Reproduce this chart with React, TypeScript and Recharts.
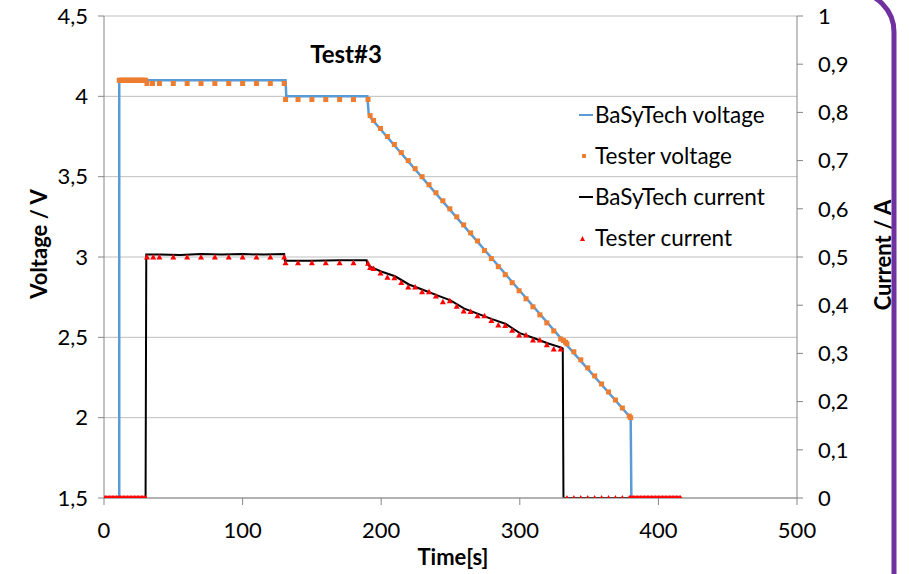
import React from "react";
import { ComposedChart, Line, XAxis, YAxis, CartesianGrid, Legend } from "recharts";

const FONT = "Lato, 'Noto Sans', sans-serif";

const timeTicks = [0, 100, 200, 300, 400, 500];
const voltTicks = [1.5, 2, 2.5, 3, 3.5, 4, 4.5];
const currTicks = [0, 0.1, 0.2, 0.3, 0.4, 0.5, 0.6, 0.7, 0.8, 0.9, 1];

// BaSyTech voltage (line)
const basyVoltT = [0, 11, 11, 131, 131.5, 190, 191, 193, 250, 300, 332, 380, 380.5, 416];
const basyVoltV = [1.5, 1.5, 4.1, 4.1, 4.0, 4.0, 3.89, 3.86, 3.29, 2.79, 2.47, 2.0, 1.5, 1.5];

// Tester voltage (square markers)
const testVoltT = [
  11, 12, 13, 14, 15, 16, 17, 18, 19, 20, 21, 22, 23, 24, 25, 26, 27, 28, 29, 30,
  31, 35, 40, 50, 60, 70, 80, 90, 100, 110, 120, 130,
  131, 140, 150, 160, 170, 180, 190.5, 192,
  194.5, 199.5, 204.5, 209.5, 214.5, 219.5, 224.5, 229.5, 234.5, 239.5, 244.5, 249.5,
  254.5, 259.5, 264.5, 269.5, 274.5, 279.5, 284.5, 289.5, 294.5, 299.5, 304.5, 309.5,
  314.5, 319.5, 324.5, 329.5, 331.5, 333, 334,
  339, 344, 349, 354, 359, 364, 369, 374, 379, 380,
];
const testVoltV = [
  4.1, 4.1, 4.1, 4.1, 4.1, 4.1, 4.1, 4.1, 4.1, 4.1, 4.1, 4.1, 4.1, 4.1, 4.1, 4.1, 4.1, 4.1, 4.1, 4.1,
  4.08, 4.08, 4.08, 4.08, 4.08, 4.08, 4.08, 4.08, 4.08, 4.08, 4.08, 4.08,
  3.98, 3.98, 3.98, 3.98, 3.98, 3.98, 3.98, 3.88,
  3.85, 3.8, 3.75, 3.7, 3.65, 3.6, 3.55, 3.5, 3.45, 3.4, 3.35, 3.3,
  3.25, 3.2, 3.15, 3.1, 3.04, 2.99, 2.94, 2.89, 2.84, 2.79, 2.74, 2.69,
  2.64, 2.59, 2.54, 2.49, 2.48, 2.47, 2.46,
  2.41, 2.36, 2.31, 2.26, 2.21, 2.16, 2.11, 2.06, 2.01, 2.0,
];

// BaSyTech current (line)
const basyCurrT = [
  0, 30, 30.5, 40, 55, 70, 85, 100, 115, 130, 130.5, 150, 170, 189.5, 190, 192,
  200, 210, 220, 230, 240, 250, 260, 270, 280, 290, 300, 310, 320, 330, 331, 331.5, 416,
];
const basyCurrI = [
  0, 0, 0.505, 0.505, 0.504, 0.506, 0.505, 0.506, 0.505, 0.506, 0.492, 0.492, 0.493, 0.493, 0.485, 0.48,
  0.47, 0.46, 0.443, 0.432, 0.421, 0.41, 0.393, 0.382, 0.371, 0.361, 0.342, 0.332, 0.321, 0.312, 0.31, 0, 0,
];

// Tester current (triangle markers)
const testCurrT = [
  0, 1, 2, 3, 4, 5, 6, 7, 8, 9, 10, 11, 12, 13, 14, 15, 16, 17, 18, 19, 20, 21, 22, 23, 24, 25, 26, 27, 28, 29, 30,
  31, 35.5, 40, 50, 60, 70, 80, 90, 100, 110, 120, 130,
  131, 140, 150, 160, 170, 180, 190.5, 192,
  194.5, 199.5, 204.5, 209.5, 214.5, 219.5, 224.5, 229.5, 234.5, 239.5, 244.5, 249.5,
  254.5, 259.5, 264.5, 269.5, 274.5, 279.5, 284.5, 289.5, 294.5, 299.5, 304.5, 309.5,
  314.5, 319.5, 324.5, 329.5,
  334, 339, 344, 349, 354, 359, 364, 369, 374, 379,
  380, 381, 382, 383, 384, 385, 386, 387, 388, 389, 390, 391, 392, 393, 394, 395, 396, 397, 398,
  399, 400, 401, 402, 403, 404, 405, 406, 407, 408, 409, 410, 411, 412, 413, 414, 415, 416,
];
const testCurrI = [
  0, 0, 0, 0, 0, 0, 0, 0, 0, 0, 0, 0, 0, 0, 0, 0, 0, 0, 0, 0, 0, 0, 0, 0, 0, 0, 0, 0, 0, 0, 0,
  0.5, 0.5, 0.5, 0.5, 0.5, 0.5, 0.5, 0.5, 0.5, 0.5, 0.5, 0.5,
  0.488, 0.488, 0.488, 0.488, 0.488, 0.488, 0.487, 0.478,
  0.476, 0.467, 0.458, 0.457, 0.447, 0.438, 0.438, 0.428, 0.428, 0.419, 0.407, 0.409,
  0.398, 0.388, 0.387, 0.378, 0.378, 0.368, 0.359, 0.358, 0.348, 0.338, 0.338, 0.328,
  0.328, 0.318, 0.309, 0.309,
  0, 0, 0, 0, 0, 0, 0, 0, 0, 0,
  0, 0, 0, 0, 0, 0, 0, 0, 0, 0, 0, 0, 0, 0, 0, 0, 0, 0, 0,
  0, 0, 0, 0, 0, 0, 0, 0, 0, 0, 0, 0, 0, 0, 0, 0, 0, 0,
];

const seriesNames = ["BaSyTech voltage", "Tester voltage", "BaSyTech current", "Tester current"];
const seriesColors = ["#5B9BD5", "#ED7D31", "#000000", "#FF0000"];

const zip = (ts: number[], vs: number[]) => ts.map((t, i) => ({ t, v: vs[i] }));
const basyVolt = zip(basyVoltT, basyVoltV);
const testVolt = zip(testVoltT, testVoltV);
const basyCurr = zip(basyCurrT, basyCurrI);
const testCurr = zip(testCurrT, testCurrI);

const fmt = (v: number) => String(v).replace(".", ",");

const SquareDot = (props: any) => {
  const { cx, cy, index } = props;
  if (cx == null || cy == null) return <g key={`sq-${index}`} />;
  return <rect key={`sq-${index}`} x={cx - 2.5} y={cy - 2.5} width={5} height={5} fill={seriesColors[1]} />;
};

const TriDot = (props: any) => {
  const { cx, cy, index } = props;
  if (cx == null || cy == null) return <g key={`tr-${index}`} />;
  return (
    <path
      key={`tr-${index}`}
      d={`M${cx - 3},${cy + 2.5} L${cx + 3},${cy + 2.5} L${cx},${cy - 3} Z`}
      fill={seriesColors[3]}
    />
  );
};

const LegendIcon = ({ i }: { i: number }) => {
  if (i === 0 || i === 2)
    return (
      <svg width={16} height={10}>
        <line x1={1} y1={5} x2={15} y2={5} stroke={seriesColors[i]} strokeWidth={2} />
      </svg>
    );
  if (i === 1)
    return (
      <svg width={16} height={10}>
        <rect x={4} y={3} width={4} height={4} fill={seriesColors[1]} />
      </svg>
    );
  return (
    <svg width={16} height={10}>
      <path d="M2,8 L7,8 L4.5,3 Z" fill={seriesColors[3]} />
    </svg>
  );
};

const renderLegend = () => (
  <div style={{ fontFamily: FONT, fontSize: 22.5, color: "#000" }}>
    {seriesNames.map((n, i) => (
      <div key={n} style={{ height: 41, display: "flex", alignItems: "center" }}>
        <LegendIcon i={i} />
        <span style={{ marginLeft: 1, whiteSpace: "nowrap" }}>{n}</span>
      </div>
    ))}
  </div>
);

const axisStroke = "#868686";
const tickStyle = { fill: "#000", fontSize: 22, fontFamily: FONT };

export default function App() {
  return (
    <div style={{ position: "absolute", left: 0, top: 0, width: 909, height: 574, background: "#fff" }}>
      <ComposedChart width={909} height={574} margin={{ top: 16, right: 0, bottom: 0, left: 0 }}>
        <CartesianGrid yAxisId="left" horizontal={true} vertical={false} stroke="#BFBFBF" strokeWidth={1} />
        <XAxis
          dataKey="t"
          type="number"
          domain={[0, 500]}
          ticks={timeTicks}
          height={76}
          tickSize={7}
          tickMargin={17}
          axisLine={{ stroke: axisStroke }}
          tickLine={{ stroke: axisStroke }}
          tick={tickStyle}
          allowDataOverflow
        />
        <YAxis
          yAxisId="left"
          domain={[1.5, 4.5]}
          ticks={voltTicks}
          width={104}
          tickSize={6}
          tickMargin={10}
          tickFormatter={fmt}
          axisLine={{ stroke: axisStroke }}
          tickLine={{ stroke: axisStroke }}
          tick={tickStyle}
          allowDataOverflow
        />
        <YAxis
          yAxisId="right"
          orientation="right"
          domain={[0, 1]}
          ticks={currTicks}
          width={112}
          tickSize={6}
          tickMargin={15}
          tickFormatter={fmt}
          axisLine={{ stroke: axisStroke }}
          tickLine={{ stroke: axisStroke }}
          tick={tickStyle}
          allowDataOverflow
        />
        <Legend
          layout="vertical"
          align="center"
          verticalAlign="middle"
          wrapperStyle={{ left: 578, top: 94, width: 210 }}
          content={renderLegend}
        />
        <Line
          yAxisId="left"
          data={basyVolt}
          dataKey="v"
          name={seriesNames[0]}
          type="linear"
          stroke={seriesColors[0]}
          strokeWidth={2.5}
          dot={false}
          activeDot={false}
          isAnimationActive={false}
        />
        <Line
          yAxisId="left"
          data={testVolt}
          dataKey="v"
          name={seriesNames[1]}
          type="linear"
          stroke="none"
          dot={SquareDot}
          activeDot={false}
          isAnimationActive={false}
        />
        <Line
          yAxisId="right"
          data={basyCurr}
          dataKey="v"
          name={seriesNames[2]}
          type="linear"
          stroke={seriesColors[2]}
          strokeWidth={2}
          dot={false}
          activeDot={false}
          isAnimationActive={false}
        />
        <Line
          yAxisId="right"
          data={testCurr}
          dataKey="v"
          name={seriesNames[3]}
          type="linear"
          stroke="none"
          dot={TriDot}
          activeDot={false}
          isAnimationActive={false}
        />
      </ComposedChart>
      <svg
        width={909}
        height={574}
        style={{ position: "absolute", left: 0, top: 0, pointerEvents: "none" }}
      >
        <text x={346} y={53} textAnchor="middle" dominantBaseline="central" fontFamily={FONT} fontWeight="bold" fontSize={24}>
          Test#3
        </text>
        <text
          x={38}
          y={244}
          transform="rotate(-90 38 244)"
          textAnchor="middle"
          dominantBaseline="central"
          fontFamily={FONT}
          fontWeight="bold"
          fontSize={22}
        >
          Voltage / V
        </text>
        <text
          x={882}
          y={255}
          transform="rotate(-90 882 255)"
          textAnchor="middle"
          dominantBaseline="central"
          fontFamily={FONT}
          fontWeight="bold"
          fontSize={22}
        >
          Current / A
        </text>
        <text x={453} y={556} textAnchor="middle" dominantBaseline="central" fontFamily={FONT} fontWeight="bold" fontSize={22}>
          Time[s]
        </text>
        <path d="M840,-8 L854,-8 A40,40 0 0 1 894,32 L894,580" fill="none" stroke="#7030A0" strokeWidth={5} />
      </svg>
    </div>
  );
}
